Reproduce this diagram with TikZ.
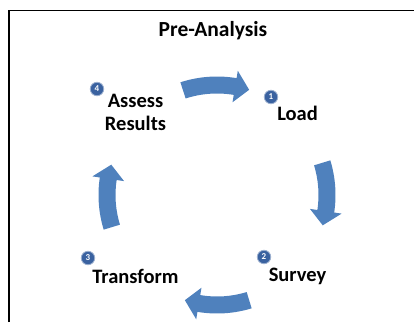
\documentclass[tikz,border=0pt]{standalone}
\usepackage{fontspec}
\setmainfont{Carlito}
\definecolor{arrowblue}{RGB}{79,129,189}
\definecolor{numblue}{RGB}{58,98,160}
\newcommand\cycarrow[2]{%
  \pgfmathsetmacro\hb{#2+7.5}%
  \fill[arrowblue,shift={(217,127)}] (#1:118.5pt) arc[start angle=#1, end angle=\hb, radius=118.5pt]
    -- (\hb:126pt) -- (#2:110pt) -- (\hb:94pt) -- (\hb:101.5pt)
    arc[start angle=\hb, end angle=#1, radius=101.5pt] -- cycle;}
\begin{document}
\begin{tikzpicture}[x=1pt,y=1pt,
  num/.style={circle, fill=numblue, draw=numblue!50, line width=0.8pt, inner sep=0pt,
    minimum size=13.5pt, text=white, font=\fontsize{9}{9}\selectfont\bfseries},
  lbl/.style={font=\fontsize{20.5}{23}\selectfont\bfseries, align=center, inner sep=0pt, text=black},
  frame/.style={line width=1.3pt, black}]
\useasboundingbox (0,0) rectangle (414,322);
\coordinate (fl) at (9,0);
\coordinate (fc) at (9,311.5);
\coordinate (fr) at (414,311.5);
\draw[frame] (fl) -- (fc) -- (fr);
\node[lbl, font=\fontsize{21.5}{24}\selectfont\bfseries, anchor=base] (title) at (213,285) {Pre-Analysis};
\cycarrow{108}{73}
\cycarrow{17}{-16}
\cycarrow{-73}{-107}
\cycarrow{197}{164}
\node[num] (n4) at (97,233) {4};
\node[num] (n1) at (271,225) {1};
\node[num] (n3) at (88,64) {3};
\node[num] (n2) at (264,65) {2};
\node[lbl, anchor=base] (l4) at (135.5,192) {Assess\\Results};
\node[lbl, anchor=base] (l1) at (297.5,202) {Load};
\node[lbl, anchor=base] (l3) at (135.5,39) {Transform};
\node[lbl, anchor=base] (l2) at (297.5,41) {Survey};
\end{tikzpicture}
\end{document}
